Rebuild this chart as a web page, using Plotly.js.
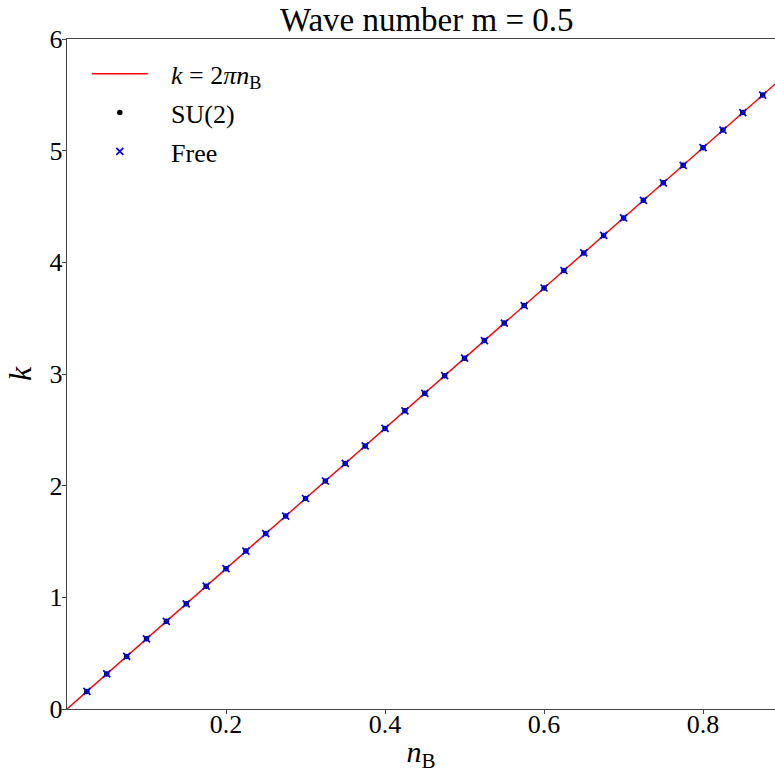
<!DOCTYPE html>
<html>
<head>
<meta charset="utf-8">
<script src="https://cdn.plot.ly/plotly-3.0.1.min.js"></script>
<style>html,body{margin:0;padding:0;background:#fff;}#chart{width:775px;height:773px;}</style>
</head>
<body>
<div id="chart"></div>
<script>
const nB = [0.025,0.05,0.075,0.1,0.125,0.15,0.175,0.2,0.225,0.25,0.275,0.3,0.325,0.35,0.375,0.4,0.425,0.45,0.475,0.5,0.525,0.55,0.575,0.6,0.625,0.65,0.675,0.7,0.725,0.75,0.775,0.8,0.825,0.85,0.875];
const kSU2 = [0.157,0.314,0.471,0.628,0.785,0.942,1.100,1.257,1.414,1.571,1.728,1.885,2.042,2.199,2.356,2.513,2.670,2.827,2.985,3.142,3.299,3.456,3.613,3.770,3.927,4.084,4.241,4.398,4.555,4.712,4.869,5.027,5.184,5.341,5.498];
const kFree = [0.157,0.314,0.471,0.628,0.785,0.942,1.100,1.257,1.414,1.571,1.728,1.885,2.042,2.199,2.356,2.513,2.670,2.827,2.985,3.142,3.299,3.456,3.613,3.770,3.927,4.084,4.241,4.398,4.555,4.712,4.869,5.027,5.184,5.341,5.498];
const lineX = [0, 0.9];
const lineY = [0, 5.655];
const xTicks = [0.2, 0.4, 0.6, 0.8];
const xTickText = ['0.2','0.4','0.6','0.8'];
const yTicks = [0,1,2,3,4,5,6];
const legendNames = ['<i>k</i> = 2<i>πn</i><sub>B</sub>', 'SU(2)', 'Free'];

const F = 'Liberation Serif';
const pad = '\u00a0\u00a0\u2009';
const traces = [
  {x: lineX, y: lineY, mode: 'lines', name: pad + legendNames[0], legendgroup: 'a', line: {color: '#ff0000', width: 1.4}},
  {x: nB, y: kSU2, mode: 'markers', name: pad + legendNames[1], legendgroup: 'b', marker: {color: '#000000', size: 5.5, symbol: 'circle'}},
  {x: nB, y: kFree, mode: 'markers', name: pad + legendNames[2], legendgroup: 'c', marker: {color: '#0000ff', size: 7, symbol: 'x-thin', line: {color: '#0000ff', width: 1.7}}}
];
const layout = {
  width: 775, height: 773,
  margin: {l: 67, r: 0, t: 39, b: 64},
  paper_bgcolor: '#fff', plot_bgcolor: '#fff',
  font: {family: F, color: '#000', size: 26},
  title: {text: 'Wave number m = 0.5', font: {family: F, size: 33, color: '#000'}, x: 0.5506, xanchor: 'center', y: 0.975, yanchor: 'middle'},
  showlegend: true,
  legend: {x: 0.028, y: 0.983, xanchor: 'left', yanchor: 'top', bgcolor: 'rgba(0,0,0,0)', font: {family: F, size: 26, color: '#000'}, itemwidth: 56, traceorder: 'grouped', tracegroupgap: 2},
  xaxis: {range: [0, 0.8905], tickvals: xTicks, ticktext: xTickText, ticks: 'outside', ticklen: 4, tickwidth: 1, tickcolor: '#444',
    ticklabelstandoff: -12,
    showline: true, linecolor: '#444', linewidth: 1.2, mirror: true, showgrid: false, zeroline: false,
    tickfont: {family: F, size: 26, color: '#000'},
    title: {text: '<i>n</i><sub>B</sub>', font: {family: F, size: 30, color: '#000'}, standoff: 12}},
  yaxis: {range: [0, 6], tickvals: yTicks, ticks: 'outside', ticklen: 4, tickwidth: 1, tickcolor: '#444',
    ticklabelstandoff: -6,
    showline: true, linecolor: '#444', linewidth: 1.2, showgrid: false, zeroline: false,
    tickfont: {family: F, size: 26, color: '#000'},
    title: {text: '<i>k</i>', font: {family: F, size: 32, color: '#000'}, standoff: 8}}
};
Plotly.newPlot('chart', traces, layout, {displayModeBar: false, staticPlot: true});
</script>
</body>
</html>
